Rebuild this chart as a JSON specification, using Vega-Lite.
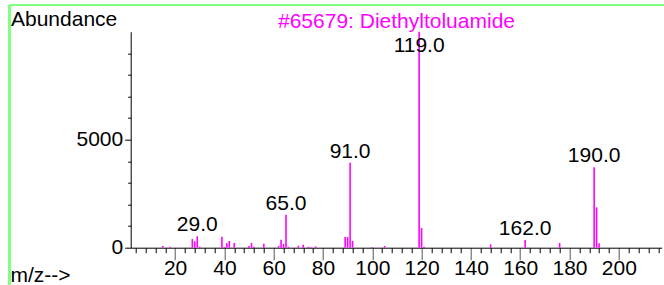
{
  "$schema": "https://vega.github.io/schema/vega-lite/v6.json",
  "width": 531,
  "height": 216,
  "autosize": "none",
  "padding": {"left": 130.7, "top": 31.7, "right": 2.3, "bottom": 37.3},
  "background": "white",
  "config": {
    "font": "Liberation Sans",
    "view": {"stroke": null},
    "axis": {"labelFont": "Liberation Sans", "titleFont": "Liberation Sans", "labelOverlap": false, "grid": false}
  },
  "data": {
    "values": [
      {"mz": 15, "abundance": 79, "annotated": false},
      {"mz": 18, "abundance": 46, "annotated": false},
      {"mz": 27, "abundance": 403, "annotated": false},
      {"mz": 28, "abundance": 296, "annotated": false},
      {"mz": 29, "abundance": 528, "annotated": true},
      {"mz": 30, "abundance": 46, "annotated": false},
      {"mz": 39, "abundance": 509, "annotated": false},
      {"mz": 40, "abundance": 40, "annotated": false},
      {"mz": 41, "abundance": 204, "annotated": false},
      {"mz": 42, "abundance": 310, "annotated": false},
      {"mz": 44, "abundance": 218, "annotated": false},
      {"mz": 50, "abundance": 79, "annotated": false},
      {"mz": 51, "abundance": 218, "annotated": false},
      {"mz": 52, "abundance": 40, "annotated": false},
      {"mz": 56, "abundance": 185, "annotated": false},
      {"mz": 62, "abundance": 79, "annotated": false},
      {"mz": 63, "abundance": 370, "annotated": false},
      {"mz": 64, "abundance": 171, "annotated": false},
      {"mz": 65, "abundance": 1528, "annotated": true},
      {"mz": 66, "abundance": 46, "annotated": false},
      {"mz": 70, "abundance": 90, "annotated": false},
      {"mz": 72, "abundance": 139, "annotated": false},
      {"mz": 74, "abundance": 40, "annotated": false},
      {"mz": 75, "abundance": 30, "annotated": false},
      {"mz": 77, "abundance": 60, "annotated": false},
      {"mz": 89, "abundance": 495, "annotated": false},
      {"mz": 90, "abundance": 495, "annotated": false},
      {"mz": 91, "abundance": 3935, "annotated": true},
      {"mz": 92, "abundance": 310, "annotated": false},
      {"mz": 100, "abundance": 30, "annotated": false},
      {"mz": 105, "abundance": 79, "annotated": false},
      {"mz": 119, "abundance": 9999, "annotated": true},
      {"mz": 120, "abundance": 912, "annotated": false},
      {"mz": 121, "abundance": 40, "annotated": false},
      {"mz": 148, "abundance": 157, "annotated": false},
      {"mz": 162, "abundance": 356, "annotated": true},
      {"mz": 176, "abundance": 218, "annotated": false},
      {"mz": 190, "abundance": 3722, "annotated": true},
      {"mz": 191, "abundance": 1870, "annotated": false},
      {"mz": 192, "abundance": 204, "annotated": false}
    ]
  },
  "resolve": {"axis": {"x": "independent", "y": "independent"}},
  "layer": [
    {
      "mark": {"type": "rule", "color": "#FF00FF", "strokeWidth": 1.6},
      "encoding": {
        "x": {
          "field": "mz",
          "type": "quantitative",
          "scale": {"domain": [2, 217.4], "nice": false, "zero": false},
          "axis": {
            "orient": "bottom",
            "values": [20, 40, 60, 80, 100, 120, 140, 160, 180, 200],
            "format": "d",
            "tickSize": 12,
            "tickColor": "#555555",
            "domainColor": "black",
            "labelColor": "black",
            "labelFontSize": 21,
            "labelPadding": -2,
            "labelFlush": false,
            "title": "m/z-->",
            "titleX": -120.7,
            "titleY": 34,
            "titleAlign": "left",
            "titleBaseline": "alphabetic",
            "titleFontSize": 21,
            "titleFontWeight": "normal",
            "titleColor": "black"
          }
        },
        "y": {
          "field": "abundance",
          "type": "quantitative",
          "scale": {"domain": [0, 10000], "nice": false},
          "axis": {
            "orient": "left",
            "values": [0, 5000],
            "format": "d",
            "tickSize": 6,
            "tickColor": "black",
            "domainColor": "black",
            "labelColor": "black",
            "labelFontSize": 21,
            "labelPadding": 2,
            "labelFlush": false,
            "title": "Abundance",
            "titleAngle": 0,
            "titleX": -120.2,
            "titleY": -6.7,
            "titleAlign": "left",
            "titleBaseline": "alphabetic",
            "titleFontSize": 21,
            "titleFontWeight": "normal",
            "titleColor": "black"
          }
        },
        "y2": {"datum": 0}
      }
    },
    {
      "transform": [{"filter": "datum.annotated && datum.abundance < 9000"}],
      "mark": {"type": "text", "fontSize": 21, "font": "Liberation Sans", "dy": -5, "baseline": "alphabetic", "align": "center", "color": "black"},
      "encoding": {
        "x": {
          "field": "mz",
          "type": "quantitative",
          "axis": {
            "orient": "bottom",
            "values": [4, 8, 12, 16, 24, 28, 32, 36, 44, 48, 52, 56, 64, 68, 72, 76, 84, 88, 92, 96, 104, 108, 112, 116, 124, 128, 132, 136, 144, 148, 152, 156, 164, 168, 172, 176, 184, 188, 192, 196, 204, 208, 212, 216],
            "tickSize": 5,
            "tickColor": "black",
            "labels": false,
            "domain": false,
            "title": null
          }
        },
        "y": {
          "field": "abundance",
          "type": "quantitative",
          "axis": {
            "orient": "left",
            "values": [1000, 2000, 3000, 4000, 6000, 7000, 8000, 9000],
            "tickSize": 3,
            "tickColor": "black",
            "labels": false,
            "domain": false,
            "title": null
          }
        },
        "text": {"field": "mz", "type": "quantitative", "format": ".1f"}
      }
    },
    {
      "transform": [{"filter": "datum.annotated && datum.abundance >= 9000"}],
      "mark": {"type": "text", "fontSize": 21, "font": "Liberation Sans", "dy": 20, "baseline": "alphabetic", "align": "center", "color": "black"},
      "encoding": {
        "x": {
          "field": "mz",
          "type": "quantitative",
          "axis": {
            "orient": "top",
            "values": [],
            "ticks": false,
            "labels": false,
            "domain": false,
            "title": "#65679: Diethyltoluamide",
            "titleX": 265.3,
            "titleY": -4.2,
            "titleAlign": "center",
            "titleBaseline": "alphabetic",
            "titleFontSize": 21,
            "titleFontWeight": "normal",
            "titleColor": "#FF00FF"
          }
        },
        "y": {"field": "abundance", "type": "quantitative", "axis": null},
        "text": {"field": "mz", "type": "quantitative", "format": ".1f"}
      }
    },
    {
      "mark": {"type": "rule", "color": "#80FF80", "strokeWidth": 1.5, "clip": false},
      "encoding": {
        "x": {"datum": -47.16, "axis": null},
        "y": {"datum": 11236, "axis": null},
        "y2": {"datum": -2000}
      }
    },
    {
      "mark": {"type": "rule", "color": "#80FF80", "strokeWidth": 1.5, "clip": false},
      "encoding": {
        "x": {"datum": -47.16, "axis": null},
        "x2": {"datum": 240},
        "y": {"datum": 11236, "axis": null}
      }
    }
  ]
}
